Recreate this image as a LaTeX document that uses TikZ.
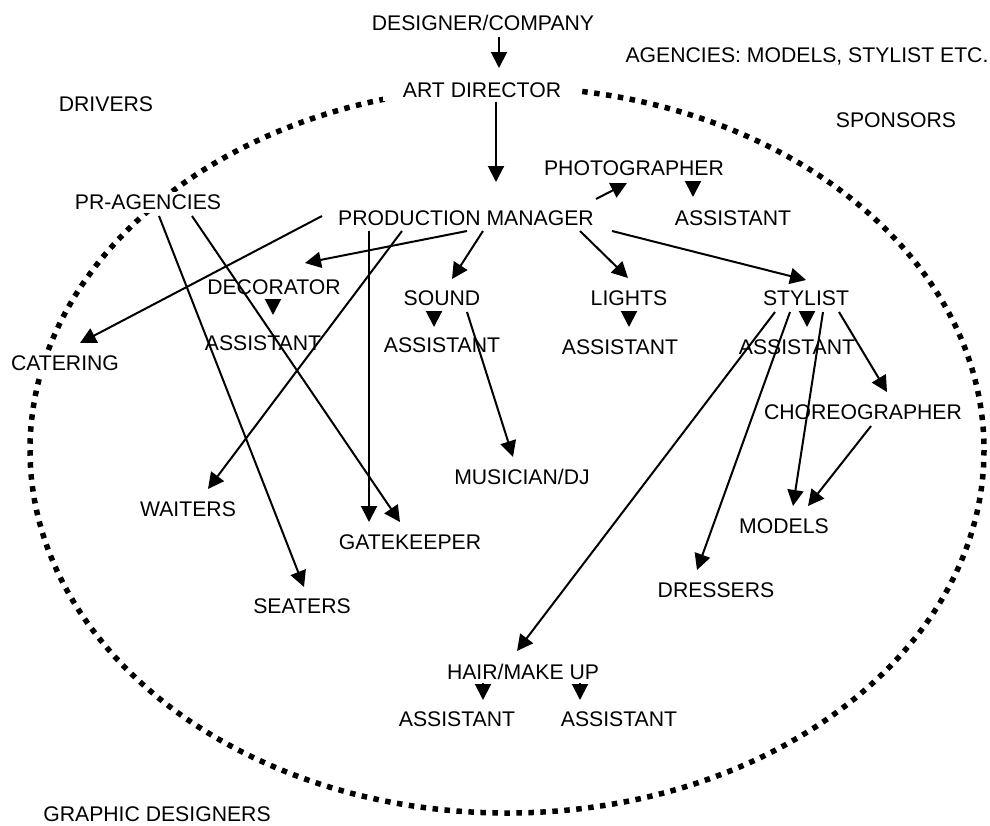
\documentclass[tikz,border=0pt]{standalone}
\usepackage{fontspec}
\setmainfont{Liberation Sans}
\usepackage{tikz}
\usetikzlibrary{arrows.meta}

\begin{document}
\begin{tikzpicture}[x=1pt,y=-1pt,
  lbl/.style={fill=white,inner xsep=8pt,inner ysep=3pt,text height=15pt,text depth=0pt,
              font=\fontsize{21.2}{25}\selectfont},
  arr/.style={line width=2pt,-{Triangle[length=16pt,width=16pt]}},
  ring/.style={line width=5.5pt,dash pattern=on 5.5pt off 6.5pt}]
\useasboundingbox (0,0) rectangle (990,825);
\draw[ring] (507,450) ellipse [x radius=477,y radius=363];

\node[lbl] (dc) at (483,23) {DESIGNER/COMPANY};
\node[lbl,inner xsep=20pt] (ad) at (482,90) {ART DIRECTOR};
\node[lbl] (ag) at (807,55) {AGENCIES: MODELS, STYLIST ETC.};
\node[lbl] (dv) at (106,104) {DRIVERS};
\node[lbl] (sp) at (896,120) {SPONSORS};
\node[lbl] (ph) at (634,168) {PHOTOGRAPHER};
\node[lbl] (pa) at (733,218) {ASSISTANT};
\node[lbl] (pm) at (466,218) {PRODUCTION MANAGER};
\node[lbl] (pr) at (148,202) {PR-AGENCIES};
\node[lbl] (de) at (274,287) {DECORATOR};
\node[lbl] (da) at (263,343) {ASSISTANT};
\node[lbl] (so) at (442,298) {SOUND};
\node[lbl] (sa) at (442,345) {ASSISTANT};
\node[lbl] (li) at (629,298) {LIGHTS};
\node[lbl] (la) at (620,347) {ASSISTANT};
\node[lbl] (st) at (806,298) {STYLIST};
\node[lbl] (sta) at (797,347) {ASSISTANT};
\node[lbl] (ch) at (863,412) {CHOREOGRAPHER};
\node[lbl] (mo) at (784,526) {MODELS};
\node[lbl] (dr) at (716,590) {DRESSERS};
\node[lbl] (ca) at (65,363) {CATERING};
\node[lbl] (wa) at (188,509) {WAITERS};
\node[lbl] (se) at (302,606) {SEATERS};
\node[lbl] (gk) at (410,542) {GATEKEEPER};
\node[lbl] (mu) at (522,477) {MUSICIAN/DJ};
\node[lbl] (hm) at (523,672) {HAIR/MAKE UP};
\node[lbl] (ha1) at (457,719) {ASSISTANT};
\node[lbl] (ha2) at (619,719) {ASSISTANT};
\node[lbl] (gd) at (157,814) {GRAPHIC DESIGNERS};

\draw[arr] ([shift={(16,14)}]dc.center) -- ([shift={(17,-22)}]ad.center);
\draw[arr] ([shift={(14,12)}]ad.center) -- ([shift={(30,-36)}]pm.center);
\draw[arr] ([shift={(130,-19)}]pm.center) -- ([shift={(-7,15)}]ph.center);
\draw[arr] ([shift={(59,15)}]ph.center) -- ([shift={(-40,-21)}]pa.center);
\draw[arr] ([shift={(146,13)}]pm.center) -- ([shift={(0,-18)}]st.center);
\draw[arr] ([shift={(114,13)}]pm.center) -- ([shift={(-1,-20)}]li.center);
\draw[arr] ([shift={(17,13)}]pm.center) -- ([shift={(10,-19)}]so.center);
\draw[arr] ([shift={(1,13)}]pm.center) -- ([shift={(31,-24)}]de.center);
\draw[arr] ([shift={(-64,13)}]pm.center) -- ([shift={(20,-20)}]wa.center);
\draw[arr] ([shift={(-97,13)}]pm.center) -- ([shift={(-41,-20)}]gk.center);
\draw[arr] ([shift={(-144,-2)}]pm.center) -- ([shift={(15,-20)}]ca.center);
\draw[arr] ([shift={(11,14)}]pr.center) -- ([shift={(2,-19)}]se.center);
\draw[arr] ([shift={(44,14)}]pr.center) -- ([shift={(-10,-20)}]gk.center);
\draw[arr] ([shift={(25,14)}]so.center) -- ([shift={(-9,-20)}]mu.center);
\draw[arr] ([shift={(-8,13)}]so.center) -- ([shift={(-8,-18)}]sa.center);
\draw[arr] ([shift={(-1,13)}]de.center) -- ([shift={(10,-28)}]da.center);
\draw[arr] ([shift={(0,13)}]li.center) -- ([shift={(9,-20)}]la.center);
\draw[arr] ([shift={(1,13)}]st.center) -- ([shift={(10,-20)}]sta.center);
\draw[arr] ([shift={(-31,14)}]st.center) -- ([shift={(-6,-21)}]hm.center);
\draw[arr] ([shift={(-16,14)}]st.center) -- ([shift={(-19,-20)}]dr.center);
\draw[arr] ([shift={(17,14)}]st.center) -- ([shift={(9,-20)}]mo.center);
\draw[arr] ([shift={(33,14)}]st.center) -- ([shift={(24,-20)}]ch.center);
\draw[arr] ([shift={(8,14)}]ch.center) -- ([shift={(24,-20)}]mo.center);
\draw[arr] ([shift={(-40,11)}]hm.center) -- ([shift={(26,-19)}]ha1.center);
\draw[arr] ([shift={(57,11)}]hm.center) -- ([shift={(-39,-19)}]ha2.center);
\end{tikzpicture}
\end{document}
